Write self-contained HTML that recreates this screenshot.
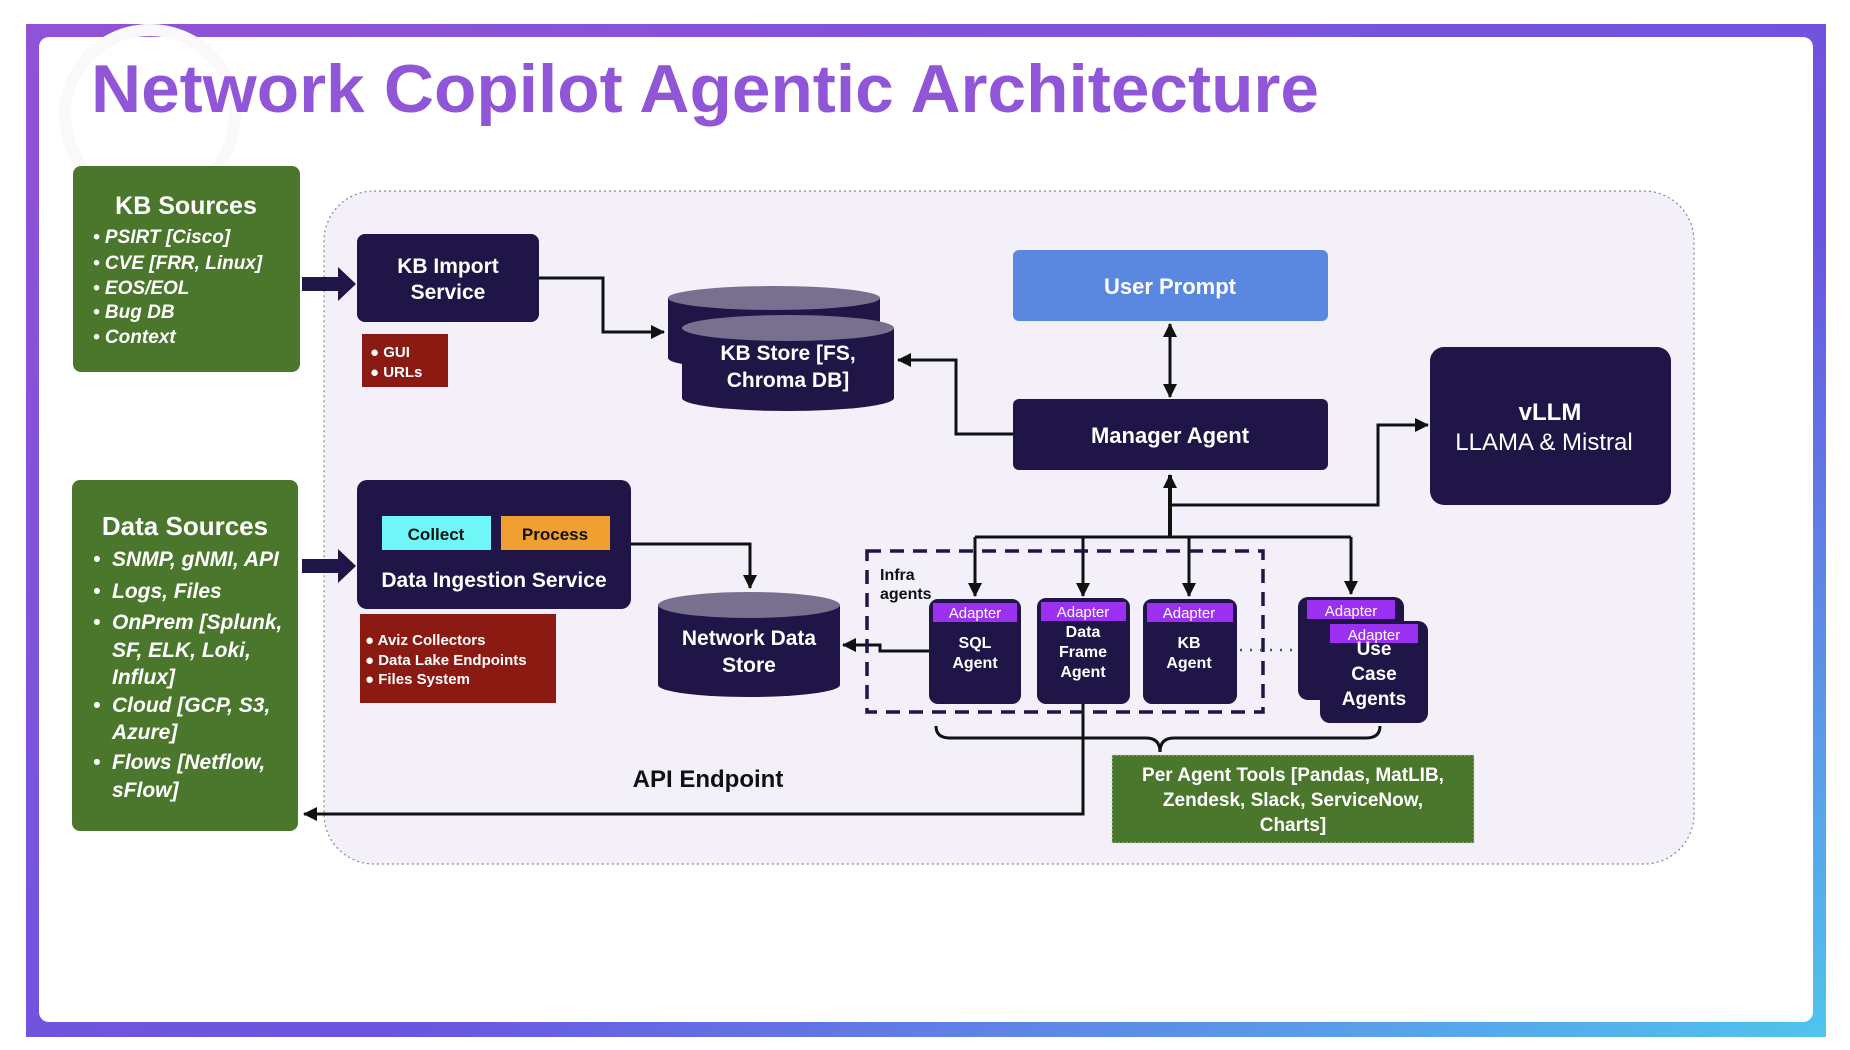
<!DOCTYPE html>
<html><head><meta charset="utf-8"><style>
html,body{margin:0;padding:0;background:#fff;width:1850px;height:1050px;overflow:hidden}
svg text{font-family:"Liberation Sans",sans-serif}
</style></head><body>
<svg width="1850" height="1050" viewBox="0 0 1850 1050" xmlns="http://www.w3.org/2000/svg">
<defs>
<linearGradient id="g" x1="0" y1="0" x2="1" y2="1">
<stop offset="0" stop-color="#9152d6"/><stop offset="0.6" stop-color="#6a55e0"/><stop offset="1" stop-color="#4fc4ee"/>
</linearGradient>
<marker id="ah2" markerWidth="14" markerHeight="14" refX="13" refY="7" orient="auto" markerUnits="userSpaceOnUse"><path d="M0,0 L14,7 L0,14 z" fill="#111"/></marker>
<marker id="as" markerWidth="14" markerHeight="14" refX="1" refY="7" orient="auto" markerUnits="userSpaceOnUse"><path d="M14,0 L0,7 L14,14 z" fill="#111"/></marker>
</defs>
<rect x="26" y="24" width="1800" height="1013" fill="url(#g)"/>
<rect x="39" y="37" width="1774" height="985" rx="10" fill="#fff"/>
<circle cx="150" cy="115" r="85" fill="none" stroke="#faf8fb" stroke-width="12"/>
<text x="91" y="112" font-size="68" font-weight="bold" fill="#9155d8" textLength="1228" lengthAdjust="spacingAndGlyphs">Network Copilot Agentic Architecture</text>

<rect x="324" y="191" width="1370" height="673" rx="50" fill="#f4f0fa" stroke="#888" stroke-width="1.2" stroke-dasharray="2,3"/>

<rect x="73" y="166" width="227" height="206" rx="8" fill="#4a772c"/>
<text x="186" y="214" font-size="25" font-weight="bold" fill="#fff" text-anchor="middle">KB Sources</text>
<g font-size="19" font-weight="bold" font-style="italic" fill="#fff">
<text x="93" y="243">•  PSIRT [Cisco]</text>
<text x="93" y="269">•  CVE [FRR, Linux]</text>
<text x="93" y="294">•  EOS/EOL</text>
<text x="93" y="318">•  Bug DB</text>
<text x="93" y="343">•  Context</text>
</g>
<rect x="72" y="480" width="226" height="351" rx="8" fill="#4a772c"/>
<text x="185" y="535" font-size="26" font-weight="bold" fill="#fff" text-anchor="middle">Data Sources</text>
<g font-size="21" font-weight="bold" font-style="italic" fill="#fff">
<text x="93" y="566">•</text><text x="112" y="566">SNMP, gNMI, API</text>
<text x="93" y="598">•</text><text x="112" y="598">Logs, Files</text>
<text x="93" y="629">•</text><text x="112" y="629">OnPrem [Splunk,</text>
<text x="112" y="657">SF, ELK, Loki,</text>
<text x="112" y="684">Influx]</text>
<text x="93" y="712">•</text><text x="112" y="712">Cloud [GCP, S3,</text>
<text x="112" y="739">Azure]</text>
<text x="93" y="769">•</text><text x="112" y="769">Flows [Netflow,</text>
<text x="112" y="797">sFlow]</text>
</g>
<path d="M302,277 h36 v-10 l18,17 l-18,17 v-10 h-36z" fill="#1f1547"/>
<path d="M302,559 h36 v-10 l18,17 l-18,17 v-10 h-36z" fill="#1f1547"/>

<rect x="357" y="234" width="182" height="88" rx="8" fill="#1f1547"/>
<text x="448" y="273" font-size="21" font-weight="bold" fill="#fff" text-anchor="middle">KB Import</text>
<text x="448" y="299" font-size="21" font-weight="bold" fill="#fff" text-anchor="middle">Service</text>
<rect x="362" y="334" width="86" height="53" fill="#8b1a13"/>
<text x="370" y="357" font-size="15" font-weight="bold" fill="#fff">● GUI</text>
<text x="370" y="377" font-size="15" font-weight="bold" fill="#fff">● URLs</text>

<path d="M668,298 v60 a106,12 0 0 0 212,0 v-60z" fill="#1f1547"/>
<ellipse cx="774" cy="298" rx="106" ry="12" fill="#77708f"/>
<path d="M682,328 v70 a106,13 0 0 0 212,0 v-70z" fill="#1f1547"/>
<ellipse cx="788" cy="328" rx="106" ry="13" fill="#77708f"/>
<text x="788" y="360" font-size="21" font-weight="bold" fill="#fff" text-anchor="middle">KB Store [FS,</text>
<text x="788" y="387" font-size="21" font-weight="bold" fill="#fff" text-anchor="middle">Chroma DB]</text>

<g fill="none" stroke="#111" stroke-width="3">
<path d="M539,278 H603 V332 H664" marker-end="url(#ah2)"/>
<path d="M1013,434 H956 V360 H898" marker-end="url(#ah2)"/>
<path d="M1170,324 V397" marker-start="url(#as)" marker-end="url(#ah2)"/>
<path d="M1170,537 V475" stroke-width="4" marker-end="url(#ah2)"/>
<path d="M1170,505 H1378 V425 H1428" marker-end="url(#ah2)"/>
<path d="M975,537 H1351"/>
<path d="M975,537 V596" marker-end="url(#ah2)"/>
<path d="M1083,537 V596" marker-end="url(#ah2)"/>
<path d="M1189,537 V596" marker-end="url(#ah2)"/>
<path d="M1351,537 V594" marker-end="url(#ah2)"/>
<path d="M631,544 H750 V588" marker-end="url(#ah2)"/>
<path d="M929,651 H880 V645 H843" marker-end="url(#ah2)"/>
<path d="M1083,704 V814 H304" marker-end="url(#ah2)"/>
<path d="M936,726 q0,12 14,12 H1146 q14,0 14,14 q0,-14 14,-14 H1366 q14,0 14,-12"/>
</g>

<rect x="1013" y="250" width="315" height="71" rx="6" fill="#5a87e0"/>
<text x="1170" y="294" font-size="22" font-weight="bold" fill="#fff" text-anchor="middle">User Prompt</text>
<rect x="1013" y="399" width="315" height="71" rx="6" fill="#1f1547"/>
<text x="1170" y="443" font-size="22" font-weight="bold" fill="#fff" text-anchor="middle">Manager Agent</text>
<rect x="1430" y="347" width="241" height="158" rx="14" fill="#1f1547"/>
<text x="1550" y="420" font-size="24" font-weight="bold" fill="#fff" text-anchor="middle">vLLM</text>
<text x="1544" y="450" font-size="24" fill="#fff" text-anchor="middle">LLAMA &amp; Mistral</text>

<rect x="357" y="480" width="274" height="129" rx="10" fill="#1f1547"/>
<rect x="382" y="516" width="109" height="34" fill="#6ff7f7"/>
<text x="436" y="540" font-size="17" font-weight="bold" fill="#111" text-anchor="middle">Collect</text>
<rect x="501" y="516" width="109" height="34" fill="#f0a030"/>
<text x="555" y="540" font-size="17" font-weight="bold" fill="#111" text-anchor="middle">Process</text>
<text x="494" y="587" font-size="21" font-weight="bold" fill="#fff" text-anchor="middle">Data Ingestion Service</text>
<rect x="360" y="614" width="196" height="89" fill="#8b1a13"/>
<g font-size="15" font-weight="bold" fill="#fff">
<text x="365" y="645">●  Aviz Collectors</text>
<text x="365" y="665">●  Data Lake Endpoints</text>
<text x="365" y="684">●  Files System</text>
</g>
<path d="M658,605 v80 a91,12 0 0 0 182,0 v-80z" fill="#1f1547"/>
<ellipse cx="749" cy="605" rx="91" ry="13" fill="#77708f"/>
<text x="749" y="645" font-size="21" font-weight="bold" fill="#fff" text-anchor="middle">Network Data</text>
<text x="749" y="672" font-size="21" font-weight="bold" fill="#fff" text-anchor="middle">Store</text>

<rect x="867" y="551" width="396" height="161" fill="none" stroke="#1f1547" stroke-width="3.5" stroke-dasharray="14,9"/>
<text x="880" y="580" font-size="16" font-weight="bold" fill="#111">Infra</text>
<text x="880" y="599" font-size="16" font-weight="bold" fill="#111">agents</text>
<g font-weight="bold" fill="#fff" text-anchor="middle">
<rect x="929" y="599" width="92" height="105" rx="9" fill="#1f1547"/>
<rect x="933" y="603" width="84" height="19" fill="#9b30f0"/>
<text x="975" y="618" font-size="15" font-weight="normal">Adapter</text>
<text x="975" y="648" font-size="16">SQL</text><text x="975" y="668" font-size="16">Agent</text>
<rect x="1037" y="598" width="93" height="106" rx="9" fill="#1f1547"/>
<rect x="1041" y="602" width="85" height="19" fill="#9b30f0"/>
<text x="1083" y="617" font-size="15" font-weight="normal">Adapter</text>
<text x="1083" y="637" font-size="16">Data</text><text x="1083" y="657" font-size="16">Frame</text><text x="1083" y="677" font-size="16">Agent</text>
<rect x="1143" y="599" width="94" height="105" rx="9" fill="#1f1547"/>
<rect x="1147" y="603" width="86" height="19" fill="#9b30f0"/>
<text x="1189" y="618" font-size="15" font-weight="normal">Adapter</text>
<text x="1189" y="648" font-size="16">KB</text><text x="1189" y="668" font-size="16">Agent</text>
</g>
<path d="M1240,650 H1296" stroke="#555" stroke-width="2.5" stroke-dasharray="2,8"/>
<g font-weight="bold" fill="#fff" text-anchor="middle">
<rect x="1298" y="597" width="106" height="103" rx="10" fill="#1f1547"/>
<rect x="1307" y="600" width="88" height="19" fill="#9b30f0"/>
<text x="1351" y="616" font-size="15" font-weight="normal">Adapter</text>
<rect x="1320" y="621" width="108" height="102" rx="10" fill="#1f1547"/>
<rect x="1330" y="624" width="88" height="19" fill="#9b30f0"/>
<text x="1374" y="640" font-size="15" font-weight="normal">Adapter</text>
<text x="1374" y="655" font-size="19">Use</text><text x="1374" y="680" font-size="19">Case</text><text x="1374" y="705" font-size="19">Agents</text>
</g>

<rect x="1112" y="755" width="362" height="88" fill="#4a772c" stroke="#ccc" stroke-width="1" stroke-dasharray="2,2"/>
<g font-size="19" font-weight="bold" fill="#fff" text-anchor="middle">
<text x="1293" y="781">Per Agent Tools [Pandas, MatLIB,</text>
<text x="1293" y="806">Zendesk, Slack, ServiceNow,</text>
<text x="1293" y="831">Charts]</text>
</g>
<text x="708" y="787" font-size="24" font-weight="bold" fill="#111" text-anchor="middle">API Endpoint</text>
</svg>
</body></html>
